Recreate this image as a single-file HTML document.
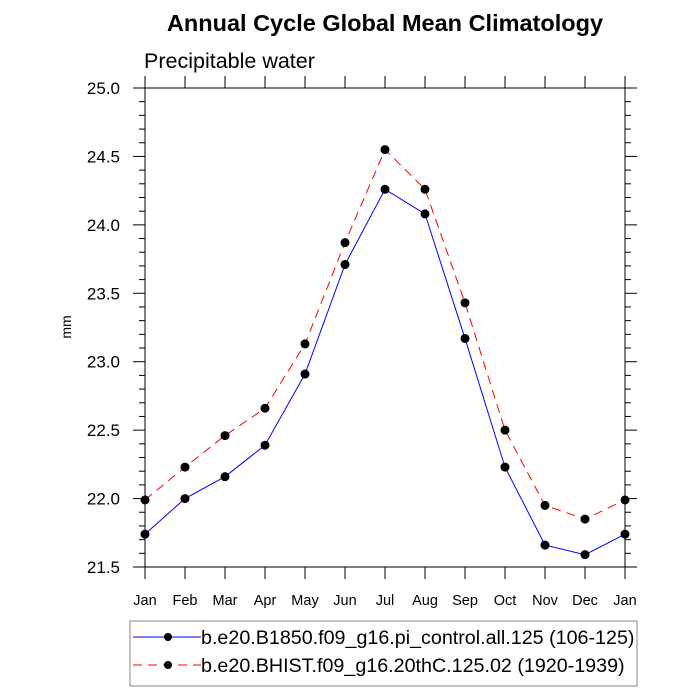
<!DOCTYPE html>
<html><head><meta charset="utf-8"><style>
body{margin:0;background:#fff}
svg{display:block;font-family:"Liberation Sans",Arial,sans-serif}
</style></head><body>
<svg id="chart" width="700" height="700">
<text x="385" y="31" text-anchor="middle" font-size="23.5" font-weight="bold">Annual Cycle Global Mean Climatology</text>
<text x="144" y="68" font-size="21.5">Precipitable water</text>
<text transform="translate(71,327) rotate(-90)" text-anchor="middle" font-size="14">mm</text>
<g id="axes"></g>
<g id="series"></g>
<g>
<rect x="130" y="621" width="507" height="65" fill="none" stroke="#888" stroke-width="1"/>
<g>
<line x1="133" y1="637" x2="201" y2="637" stroke="#00f" stroke-width="1"/>
<circle cx="168" cy="637" r="4" fill="#000"/>
<text x="201" y="644" font-size="19.7">b.e20.B1850.f09_g16.pi_control.all.125 (106-125)</text>
</g>
<g>
<line x1="133" y1="665" x2="201" y2="665" stroke="#f00" stroke-width="1" stroke-dasharray="9,6"/>
<circle cx="168" cy="665" r="4" fill="#000"/>
<text x="201" y="672" font-size="19.7">b.e20.BHIST.f09_g16.20thC.125.02 (1920-1939)</text>
</g>
</g>
</svg>
<script>
const months = ["Jan","Feb","Mar","Apr","May","Jun","Jul","Aug","Sep","Oct","Nov","Dec","Jan"];
const controlValues = [21.74,22.00,22.16,22.39,22.91,23.71,24.26,24.08,23.17,22.23,21.66,21.59,21.74];
const histValues = [21.99,22.23,22.46,22.66,23.13,23.87,24.55,24.26,23.43,22.50,21.95,21.85,21.99];
const yTicks = ["21.5","22.0","22.5","23.0","23.5","24.0","24.5","25.0"];
const NS="http://www.w3.org/2000/svg";
const X0=145,X1=625,Y0=567,Y1=88,YMIN=21.5,YMAX=25.0;
function xs(i){return X0+(X1-X0)*i/(months.length-1);}
function ys(v){return Y0-(v-YMIN)/(YMAX-YMIN)*(Y0-Y1);}
function mk(tag,attrs,parent){const e=document.createElementNS(NS,tag);for(const k in attrs)e.setAttribute(k,attrs[k]);parent.appendChild(e);return e;}
const ax=document.getElementById('axes');
const fr=mk('rect',{x:X0,y:Y1,width:X1-X0,height:Y0-Y1,fill:'none',stroke:'#000','stroke-width':1},ax);


mk('line',{x1:133,y1:Y1,x2:637,y2:Y1,stroke:'#000'},ax);
mk('line',{x1:133,y1:Y0,x2:637,y2:Y0,stroke:'#000'},ax);
months.forEach((m,i)=>{
  const x=xs(i);
  mk('line',{x1:x,y1:Y0,x2:x,y2:Y0+12,stroke:'#000'},ax);
  mk('line',{x1:x,y1:Y1,x2:x,y2:Y1-12,stroke:'#000'},ax);
  const t=mk('text',{x:x,y:Y0+38,'text-anchor':'middle','font-size':14.5},ax);
  t.textContent=m;
  
  
});
for(let k=0;k<=35;k++){
  const v=YMIN+k*0.1,y=ys(v),maj=k%5===0,len=maj?12:6;
  mk('line',{x1:X0,y1:y,x2:X0-len,y2:y,stroke:'#000'},ax);
  mk('line',{x1:X1,y1:y,x2:X1+len,y2:y,stroke:'#000'},ax);
}
yTicks.forEach(s=>{
  const t=mk('text',{x:120,y:ys(parseFloat(s))+6,'text-anchor':'end','font-size':17},ax);
  t.textContent=s;
  
  
});
const sg=document.getElementById('series');
function drawSeries(vals,color,dash,name){
  const g=mk('g',{},sg);
  
  
  const pts=vals.map((v,i)=>xs(i)+','+ys(v)).join(' ');
  const a={points:pts,fill:'none',stroke:color,'stroke-width':1};
  if(dash)a['stroke-dasharray']=dash;
  mk('polyline',a,g);
  vals.forEach((v,i)=>{
    const c=mk('circle',{cx:xs(i),cy:ys(v),r:4.5,fill:'#000'},g);
    
    
  });
}
drawSeries(controlValues,'#00f',null,'series-control');
drawSeries(histValues,'#f00','9,6','series-hist');
</script>
</body></html>
